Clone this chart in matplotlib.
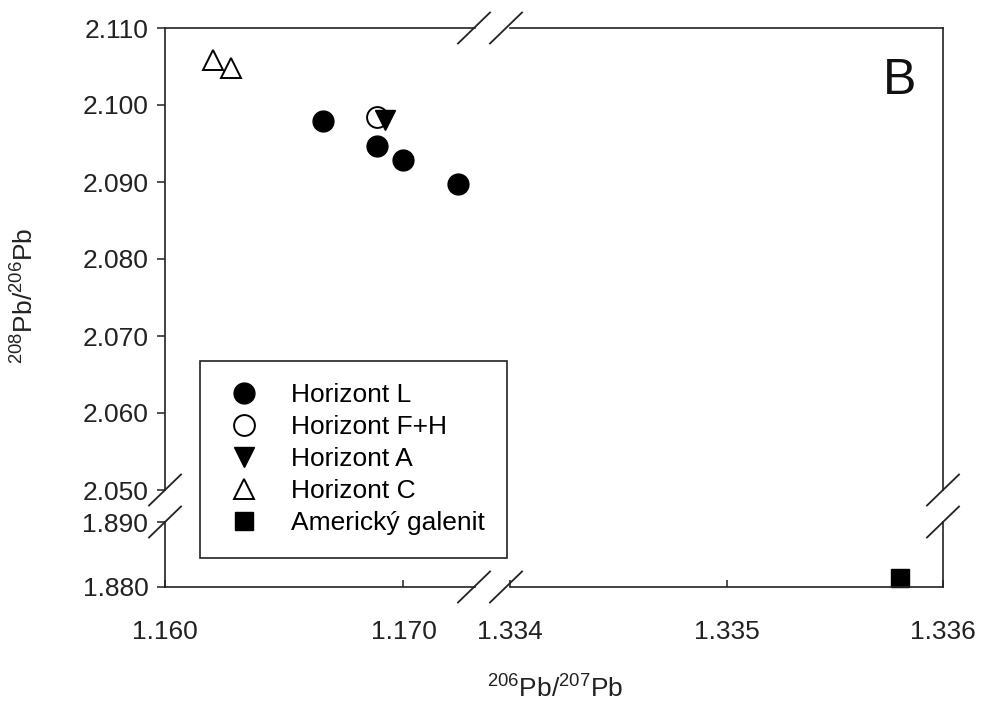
import numpy as np
import matplotlib.pyplot as plt
from matplotlib.lines import Line2D

plt.rcParams['font.family'] = ['Liberation Sans', 'DejaVu Sans']
plt.rcParams['mathtext.fontset'] = 'custom'
plt.rcParams['mathtext.rm'] = 'Liberation Sans'

# data
L_x = [1.16664, 1.16891, 1.16996, 1.17227]
L_y = [2.0979, 2.09468, 2.09286, 2.08974]
FH_x = [1.16891]
FH_y = [2.09844]
A_x = [1.16924]
A_y = [2.09805]
C_x = [1.16202, 1.16277]
C_y = [2.10584, 2.10481]
gal_x = [1.33580]
gal_y = [1.88146]

y_top_ticks = [2.050, 2.060, 2.070, 2.080, 2.090, 2.100, 2.110]
y_bot_ticks = [1.880, 1.890]
x_left_ticks = [1.160, 1.170]
x_right_ticks = [1.334, 1.335, 1.336]

W, H = 986, 711
fig = plt.figure(figsize=(W / 100, H / 100), dpi=100)

def box(x0, y0, x1, y1):
    # pixel box -> figure fraction rect
    return [x0 / W, 1 - y1 / H, (x1 - x0) / W, (y1 - y0) / H]

xl, xm1, xm2, xr = 165, 475, 510, 943
yt, ym1, ym2, yb = 28, 490, 522, 587

ax_ul = fig.add_axes(box(xl, yt, xm1, ym1))
ax_ur = fig.add_axes(box(xm2, yt, xr, ym1))
ax_ll = fig.add_axes(box(xl, ym2, xm1, yb))
ax_lr = fig.add_axes(box(xm2, ym2, xr, yb))

spc = '#222222'
for ax in [ax_ul, ax_ur, ax_ll, ax_lr]:
    for s in ax.spines.values():
        s.set_visible(False)
        s.set_color(spc)
        s.set_linewidth(1.2)
    ax.set_facecolor('none')
    ax.tick_params(labelsize=19, colors='#222222')
    ax.set_xticks([])
    ax.set_yticks([])

for ax in [ax_ul, ax_ur]:
    ax.set_ylim(2.050, 2.110)
    ax.spines['top'].set_visible(True)
for ax in [ax_ll, ax_lr]:
    ax.set_ylim(1.880, 1.890)
    ax.spines['bottom'].set_visible(True)
for ax in [ax_ul, ax_ll]:
    ax.set_xlim(1.160, 1.173)
    ax.spines['left'].set_visible(True)
for ax in [ax_ur, ax_lr]:
    ax.set_xlim(1.334, 1.336)
    ax.spines['right'].set_visible(True)

ax_ul.set_yticks(y_top_ticks)
ax_ul.set_yticklabels(['%.3f' % v for v in y_top_ticks])
ax_ll.set_yticks(y_bot_ticks)
ax_ll.set_yticklabels(['%.3f' % v for v in y_bot_ticks])
for ax in [ax_ul, ax_ll]:
    ax.tick_params(axis='y', direction='out', length=6, width=1.1, pad=6)

ax_ll.set_xticks(x_left_ticks)
ax_ll.set_xticklabels(['%.3f' % v for v in x_left_ticks])
ax_lr.set_xticks(x_right_ticks)
ax_lr.set_xticklabels(['%.3f' % v for v in x_right_ticks])
for ax in [ax_ll, ax_lr]:
    ax.tick_params(axis='x', direction='in', length=5, width=1.1, pad=24)
ax_lr.tick_params(axis='y', left=False)

ms = 15
ax_ul.plot(L_x, L_y, 'o', color='black', ms=ms, ls='none')
ax_ul.plot(FH_x, FH_y, 'o', mfc='white', mec='black', mew=1.4, ms=ms, ls='none')
ax_ul.plot(A_x, A_y, 'v', color='black', ms=ms, ls='none')
ax_ul.plot(C_x, C_y, '^', mfc='white', mec='black', mew=1.4, ms=ms, ls='none')
ax_lr.plot(gal_x, gal_y, 's', color='black', ms=13, ls='none', clip_on=False)

# break marks
def slash(cx, cy, dx=16, dy=15.5):
    fig.add_artist(Line2D([(cx - dx) / W, (cx + dx) / W],
                          [1 - (cy + dy) / H, 1 - (cy - dy) / H],
                          color=spc, lw=1.3))

for cx in [474, 506]:
    slash(cx, yt)
    slash(cx, yb)
for cy in [ym1, ym2]:
    slash(xl, cy)
    slash(xr, cy)

handles = [
    Line2D([], [], marker='o', color='black', ls='none', ms=ms),
    Line2D([], [], marker='o', mfc='white', mec='black', mew=1.4, ls='none', ms=ms),
    Line2D([], [], marker='v', color='black', ls='none', ms=ms),
    Line2D([], [], marker='^', mfc='white', mec='black', mew=1.4, ls='none', ms=ms),
    Line2D([], [], marker='s', color='black', ls='none', ms=13),
]
labels = ['Horizont L', 'Horizont F+H', 'Horizont A', 'Horizont C', 'Americký galenit']
leg = fig.legend(handles, labels, loc='upper left',
                 bbox_to_anchor=(200 / W, 1 - 361 / H), borderaxespad=0,
                 fontsize=19, frameon=True, fancybox=False, edgecolor=spc,
                 framealpha=1, borderpad=0.85, handlelength=1.6,
                 handletextpad=1.0, labelspacing=0.3)
leg.get_frame().set_linewidth(1.2)

fig.text(900 / W, 1 - 81 / H, 'B', fontsize=36, ha='center', va='center', color='#111111')
fig.text(24 / W, 1 - 296 / H, r'$^{208}$Pb/$^{206}$Pb', fontsize=19, rotation=90,
         ha='center', va='center', color='#222222')
fig.text(555 / W, 1 - 688 / H, r'$^{206}$Pb/$^{207}$Pb', fontsize=19,
         ha='center', va='center', color='#222222')

fig.savefig('out.png', dpi=100)
